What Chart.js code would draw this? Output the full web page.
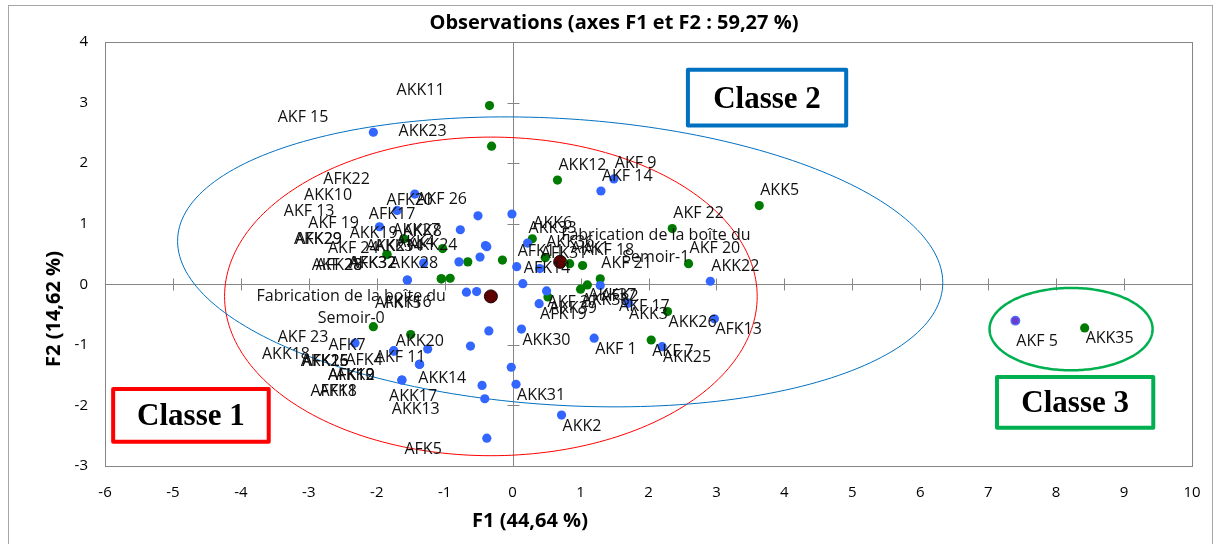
<!DOCTYPE html>
<html>
<head>
<meta charset="utf-8">
<script src="https://cdn.jsdelivr.net/npm/chart.js@4.4.1/dist/chart.umd.min.js"></script>
<style>
  html, body { margin: 0; padding: 0; background: #ffffff; }
  #wrap { width: 1219px; height: 544px; position: relative; }
</style>
</head>
<body>
<div id="wrap"><canvas id="chart" width="1219" height="544"></canvas></div>
<script>
// ---- Observations : coordinates on F1 / F2 and Semoir modality (0 / 1) ----
const obsNames = [
  'AKK11', 'AKF 15', 'AKK23', 'AFK22', 'AKK10', 'AFK20', 'AKF 26', 'AKF 13', 'AFK17', 'AKF 19',
  'AKK27', 'AKK8', 'AKK19', 'AKK29', 'AFK29', 'AKK21', 'AKK34', 'AKK4', 'AKK24', 'AKF 24',
  'AKK32', 'AFK32', 'AKK28', 'AFK28', 'AKF 28', 'AFK15', 'AKK16', 'AKF 23', 'AFK7', 'AKK20',
  'AKK18', 'AFK26', 'AKK15', 'AFK25', 'AFK4', 'AKF 11', 'AFK12', 'AKK9', 'AFK10', 'AKK14',
  'AFK18', 'AFK1', 'AKK17', 'AKK13', 'AFK5',
  'AKK12', 'AKF 9', 'AKF 14', 'AKK5', 'AKF 22', 'AKK33', 'AKK6', 'AKK36', 'AKK1', 'AKF 18',
  'AFK31', 'AFK11', 'AKF 20', 'AKK22', 'AKF 21', 'AFK14', 'AKK37', 'AKK38', 'AFK2', 'AKF 27',
  'AKK39', 'AFK19', 'AKK3', 'AKF 17', 'AKK26', 'AFK13', 'AKK30', 'AKF 1', 'AKF 7', 'AKK25',
  'AKK31', 'AKK2', 'AKF 5', 'AKK35'
];
const obsF1 = [
  -0.34, -2.05, -0.31, -1.44, -1.70, -0.51, -0.01, -1.96, -0.77, -1.60,
  -0.40, -0.38, -1.03, -1.85, -1.85, -0.79, -0.66, -0.48, -0.15, -1.31,
  -1.05, -1.05, -0.92, -1.55, -1.55, -0.68, -0.53, -2.05, -1.50, -0.35,
  -2.32, -1.75, -1.75, -1.75, -1.25, -0.62, -1.37, -1.37, -1.37, -0.02,
  -1.63, -1.63, -0.45, -0.41, -0.38,
  0.66, 1.49, 1.30, 3.63, 2.35, 0.22, 0.29, 0.48, 0.84, 1.03,
  0.40, 0.06, 2.59, 2.91, 1.29, 0.15, 1.10, 1.00, 1.29, 0.50,
  0.52, 0.39, 1.70, 1.70, 2.28, 2.97, 0.13, 1.20, 2.04, 2.20,
  0.05, 0.72, 7.40, 8.42
];
const obsF2 = [
  2.95, 2.51, 2.28, 1.49, 1.22, 1.13, 1.16, 0.95, 0.90, 0.75,
  0.64, 0.62, 0.59, 0.49, 0.49, 0.37, 0.37, 0.45, 0.40, 0.35,
  0.09, 0.09, 0.10, 0.07, 0.07, -0.13, -0.12, -0.70, -0.83, -0.77,
  -0.97, -1.10, -1.10, -1.10, -1.07, -1.02, -1.32, -1.32, -1.32, -1.37,
  -1.58, -1.58, -1.67, -1.89, -2.54,
  1.72, 1.74, 1.54, 1.30, 0.92, 0.68, 0.75, 0.44, 0.34, 0.31,
  0.26, 0.29, 0.34, 0.05, 0.09, 0.01, -0.01, -0.08, -0.02, -0.11,
  -0.21, -0.32, -0.31, -0.31, -0.45, -0.57, -0.74, -0.89, -0.92, -1.03,
  -1.65, -2.16, -0.60, -0.72
];
const obsSemoir = [
  1, 0, 1, 0, 0, 0, 0, 0, 0, 1,
  0, 0, 1, 1, 1, 0, 1, 0, 1, 0,
  1, 1, 1, 0, 0, 0, 0, 1, 1, 0,
  0, 0, 0, 0, 0, 0, 0, 0, 0, 0,
  0, 0, 0, 0, 0,
  1, 0, 0, 1, 1, 0, 1, 1, 1, 1,
  0, 0, 1, 0, 1, 0, 1, 1, 0, 0,
  1, 0, 0, 0, 1, 0, 0, 0, 1, 0,
  0, 0, 0, 1
];

// ---- Centroids of the modalities of "Fabrication de la boîte du Semoir" ----
const centroidNames = ['Fabrication de la boîte du\nSemoir-0', 'Fabrication de la boîte du\nSemoir-1'];
const centroidF1 = [-0.32, 0.70];
const centroidF2 = [-0.20, 0.37];

// ---- Axes ----
const xTicks = [-6, -5, -4, -3, -2, -1, 0, 1, 2, 3, 4, 5, 6, 7, 8, 9, 10];
const yTicks = [-3, -2, -1, 0, 1, 2, 3, 4];
const chartTitle = 'Observations (axes F1 et F2 : 59,27 %)';
const xTitle = 'F1 (44,64 %)';
const yTitle = 'F2 (14,62 %)';
const classNames = ['Classe 1', 'Classe 2', 'Classe 3'];

// ---- Drawing layout (styles, class frames, confidence ellipses) ----
const COL_BLUE = '#3366ff';
const COL_GREEN = '#007a00';
const LABEL_FONT = '16px "Open Sans"';
const TITLE_FONT = 'bold 20px "Open Sans"';
const labelNudge = { 'AKK28': [33, 0], 'AKF 17': [-10, -8], 'AKF 5': [0, 10] };
const pointStyleOverride = { 'AKF 5': { fill: '#6a3cc8', stroke: '#4f6bff' } };
const classFrames = [
  { text: classNames[0], color: '#ff0000', x0: -5.88, x1: -3.59, y0: -1.73, y1: -2.60 },
  { text: classNames[1], color: '#0070c0', x0: 2.58, x1: 4.91, y0: 3.54, y1: 2.62 },
  { text: classNames[2], color: '#00b050', x0: 7.13, x1: 9.43, y0: -1.53, y1: -2.37 }
];
const ellipses = [
  { color: '#ff0000', width: 1, cx: centroidF1[0], cy: centroidF2[0], ux: 3.92, uy: 0, vx: 0, vy: 2.63 },
  { color: '#0070c0', width: 1, cx: centroidF1[1], cy: centroidF2[1], ux: 5.63, uy: -0.40, vx: -0.135, vy: -2.36 },
  { color: '#00b050', width: 2.5, cx: 8.22, cy: -0.74, ux: 1.20, uy: 0, vx: 0, vy: 0.68 }
];

const obs = obsNames.map((n, i) => ({ name: n, x: obsF1[i], y: obsF2[i], g: obsSemoir[i] }));
const cents = centroidNames.map((n, i) => ({ name: n, x: centroidF1[i], y: centroidF2[i] }));

function pointsOf(g) { return obs.filter(o => o.g === g && !pointStyleOverride[o.name]); }

const decor = {
  id: 'decor',
  beforeDatasetsDraw(chart) {
    const { ctx, chartArea: a, scales: { x: xs, y: ys } } = chart;
    ctx.save();
    // outer frame
    ctx.strokeStyle = '#a6a6a6'; ctx.lineWidth = 1;
    ctx.strokeRect(8.5, 5.5, 1204, 560);
    // plot frame
    ctx.strokeStyle = '#868686';
    ctx.strokeRect(Math.round(a.left) + 0.5, Math.round(a.top) + 0.5, Math.round(a.right - a.left), Math.round(a.bottom - a.top));
    // axes through the origin with cross tick marks
    const x0 = Math.round(xs.getPixelForValue(0)) + 0.5;
    const y0 = Math.round(ys.getPixelForValue(0)) + 0.5;
    ctx.beginPath();
    ctx.moveTo(a.left, y0); ctx.lineTo(a.right, y0);
    ctx.moveTo(x0, a.top); ctx.lineTo(x0, a.bottom);
    xTicks.forEach(v => { const p = Math.round(xs.getPixelForValue(v)) + 0.5; ctx.moveTo(p, y0 - 6); ctx.lineTo(p, y0 + 6); });
    yTicks.forEach(v => { const p = Math.round(ys.getPixelForValue(v)) + 0.5; ctx.moveTo(x0 - 6, p); ctx.lineTo(x0 + 6, p); });
    ctx.stroke();
    // ellipses
    ellipses.forEach(e => {
      ctx.beginPath();
      for (let i = 0; i <= 240; i++) {
        const t = i / 240 * Math.PI * 2;
        const dx = e.cx + Math.cos(t) * e.ux + Math.sin(t) * e.vx;
        const dy = e.cy + Math.cos(t) * e.uy + Math.sin(t) * e.vy;
        const px = xs.getPixelForValue(dx), py = ys.getPixelForValue(dy);
        if (i === 0) ctx.moveTo(px, py); else ctx.lineTo(px, py);
      }
      ctx.closePath();
      ctx.strokeStyle = e.color; ctx.lineWidth = e.width; ctx.stroke();
    });
    ctx.restore();
  },
  afterDatasetsDraw(chart) {
    const { ctx, scales: { x: xs, y: ys } } = chart;
    ctx.save();
    // point labels
    ctx.font = LABEL_FONT; ctx.fillStyle = '#111111'; ctx.textBaseline = 'middle'; ctx.textAlign = 'center';
    obs.concat(cents).forEach(o => {
      const px = xs.getPixelForValue(o.x), py = ys.getPixelForValue(o.y);
      const lines = o.name.split('\n');
      const w = Math.max(...lines.map(l => ctx.measureText(l).width));
      const nudge = labelNudge[o.name] || [0, 0];
      const left = (o.x < 0 ? px - 45 - w : px + 1) + nudge[0];
      const cy = (o.y >= 0 ? py - 15 : py + 11) + nudge[1];
      lines.forEach((l, i) => ctx.fillText(l, left + w / 2, cy + (i - (lines.length - 1) / 2) * 22));
    });
    // class frames
    classFrames.forEach(f => {
      const l = xs.getPixelForValue(f.x0), r = xs.getPixelForValue(f.x1);
      const t = ys.getPixelForValue(f.y0), b = ys.getPixelForValue(f.y1);
      ctx.fillStyle = '#ffffff'; ctx.fillRect(l, t, r - l, b - t);
      ctx.strokeStyle = f.color; ctx.lineWidth = 4; ctx.lineJoin = 'round';
      ctx.strokeRect(l, t, r - l, b - t);
      ctx.fillStyle = '#000000'; ctx.font = 'bold 31px "Liberation Serif"';
      ctx.textAlign = 'center'; ctx.textBaseline = 'middle';
      ctx.fillText(f.text, (l + r) / 2, (t + b) / 2 + 2);
    });
    // titles
    ctx.fillStyle = '#000000'; ctx.font = TITLE_FONT;
    ctx.textAlign = 'center'; ctx.textBaseline = 'middle';
    ctx.fillText(chartTitle, 614, 23);
    ctx.fillText(xTitle, 530, 521);
    ctx.translate(54, 309); ctx.rotate(-Math.PI / 2);
    ctx.fillText(yTitle, 0, 0);
    ctx.restore();
  }
};

const special = obs.filter(o => pointStyleOverride[o.name]);

new Chart(document.getElementById('chart').getContext('2d'), {
  type: 'scatter',
  data: {
    datasets: [
      { label: 'Semoir-0', data: pointsOf(0), backgroundColor: COL_BLUE, pointRadius: 4.6, borderWidth: 0 },
      { label: 'Semoir-1', data: pointsOf(1), backgroundColor: COL_GREEN, pointRadius: 4.6, borderWidth: 0 },
      { label: 'Semoir-0 (AKF 5)', data: special,
        backgroundColor: special.map(o => pointStyleOverride[o.name].fill),
        borderColor: special.map(o => pointStyleOverride[o.name].stroke),
        pointRadius: 4.2, borderWidth: 1.5 },
      { label: 'Centroïdes', data: cents, backgroundColor: '#5c0000', borderColor: '#1a0000', pointRadius: 6.5, borderWidth: 1 }
    ]
  },
  options: {
    responsive: false,
    animation: false,
    events: [],
    layout: { padding: { left: 60, right: 27, top: 42, bottom: 28 } },
    plugins: { legend: { display: false }, tooltip: { enabled: false }, title: { display: false } },
    scales: {
      x: {
        type: 'linear', min: -6, max: 10,
        afterBuildTicks: s => { s.ticks = xTicks.map(v => ({ value: v })); },
        afterFit: s => { s.height = 50; },
        grid: { display: false, drawTicks: false },
        border: { display: false },
        ticks: { color: '#000000', padding: 18, font: { family: 'Open Sans', size: 15 }, callback: v => String(v), maxRotation: 0, autoSkip: false }
      },
      y: {
        type: 'linear', min: -3, max: 4,
        afterBuildTicks: s => { s.ticks = yTicks.map(v => ({ value: v })); },
        afterFit: s => { s.width = 45; },
        grid: { display: false, drawTicks: false },
        border: { display: false },
        ticks: { color: '#000000', padding: 17, font: { family: 'Open Sans', size: 15 }, callback: v => String(v), autoSkip: false }
      }
    }
  },
  plugins: [decor]
});
</script>
</body>
</html>
